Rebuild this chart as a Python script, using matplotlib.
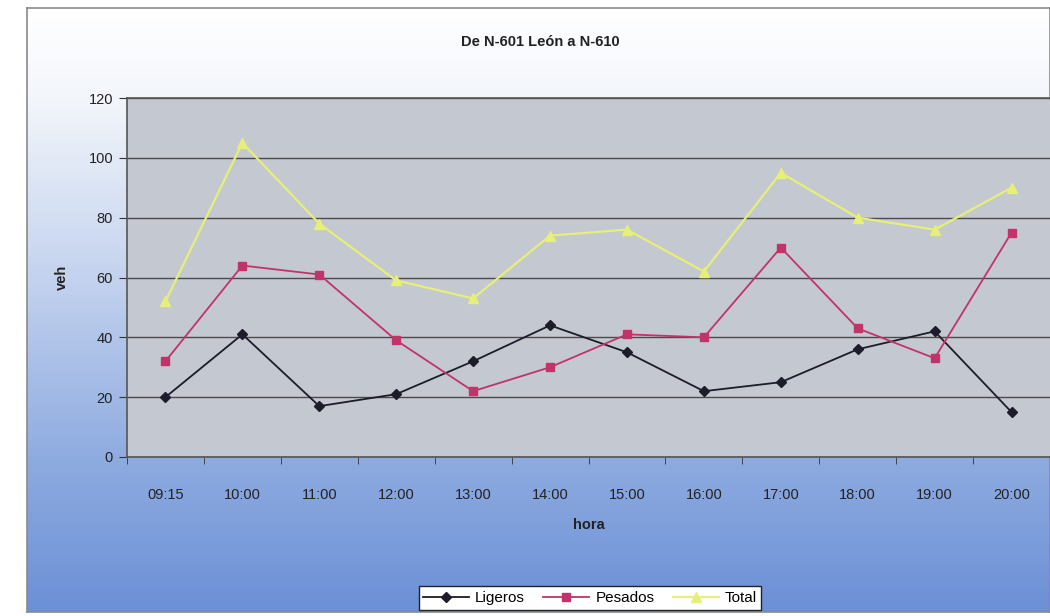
import matplotlib
matplotlib.use("Agg")
import matplotlib.pyplot as plt
import numpy as np
from matplotlib.colors import LinearSegmentedColormap

horas = ["09:15", "10:00", "11:00", "12:00", "13:00", "14:00",
         "15:00", "16:00", "17:00", "18:00", "19:00", "20:00"]
ligeros = [20, 41, 17, 21, 32, 44, 35, 22, 25, 36, 42, 15]
pesados = [32, 64, 61, 39, 22, 30, 41, 40, 70, 43, 33, 75]
total = [52, 105, 78, 59, 53, 74, 76, 62, 95, 80, 76, 90]
y_ticks = [0, 20, 40, 60, 80, 100, 120]

plt.rcParams['font.family'] = ['Liberation Sans', 'DejaVu Sans']

W, H = 1050, 616
fig = plt.figure(figsize=(W / 100, H / 100), dpi=100)
fig.patch.set_facecolor('white')

# chart-area gradient background
bg = fig.add_axes([27 / W, 4 / H, 1 - 27 / W, 1 - 12 / H], zorder=0)
cmap = LinearSegmentedColormap.from_list(
    'bg', [(0.0, '#ffffff'), (0.15, '#f3f6fb'), (0.45, '#c3d2ee'),
           (0.75, '#8eabe0'), (1.0, '#6c90d6')])
grad = np.linspace(0, 1, 256).reshape(-1, 1)
bg.imshow(grad, aspect='auto', cmap=cmap, extent=[0, 1, 0, 1], origin='upper')
bg.set_xticks([])
bg.set_yticks([])
for s in bg.spines.values():
    s.set_color('#8a8a8a')
    s.set_linewidth(1.2)

ax = fig.add_axes([127 / W, 1 - 457 / H, 1 - 127 / W, (457 - 98) / H], zorder=1)
ax.set_facecolor('#c4c8d0')
x = np.arange(len(horas))

ax.plot(x, ligeros, color='#1c1c2a', lw=1.3, marker='D', ms=5, label='Ligeros', zorder=4)
ax.plot(x, pesados, color='#c2336a', lw=1.3, marker='s', ms=6, label='Pesados', zorder=4)
ax.plot(x, total, color='#e6ef78', lw=1.6, marker='^', ms=7, label='Total', zorder=4)

ax.set_xlim(-0.5, len(horas) - 0.5)
ax.set_ylim(0, 120)
ax.set_yticks(y_ticks)
ax.set_yticklabels([str(v) for v in y_ticks], fontsize=10.5, color='#222222')
ax.set_xticks(x)
ax.set_xticklabels(horas, fontsize=10.5, color='#222222')
ax.tick_params(axis='x', length=0, pad=22)
ax.set_xticks(np.arange(-0.5, len(horas), 1), minor=True)
ax.tick_params(axis='x', which='minor', length=5, direction='out', color='#333333')
ax.tick_params(axis='y', length=6, direction='out', color='#333333', pad=4)
ax.yaxis.grid(True, color='#4a4a4a', lw=1.0)
ax.set_axisbelow(True)
for k, s in ax.spines.items():
    s.set_color('#555555')
    s.set_linewidth(1.2)
ax.spines['right'].set_visible(False)

ax.set_xlabel('hora', fontsize=10.5, fontweight='bold', labelpad=12, color='#222222')
ax.set_ylabel('veh', fontsize=10.5, fontweight='bold', labelpad=14, color='#222222')

fig.text(540 / W, 1 - 42 / H, 'De N-601 León a N-610', ha='center', va='center',
         fontsize=10.5, fontweight='bold', color='#222222')

leg = fig.legend(loc='center', bbox_to_anchor=(590 / W, 1 - 598 / H), ncol=3,
                 fontsize=11, frameon=True, fancybox=False, edgecolor='#222222',
                 facecolor='white', framealpha=1, handlelength=3.0,
                 columnspacing=1.2, handletextpad=0.4, borderpad=0.3)
leg.get_frame().set_linewidth(1.0)

fig.savefig('out.png', dpi=100)
